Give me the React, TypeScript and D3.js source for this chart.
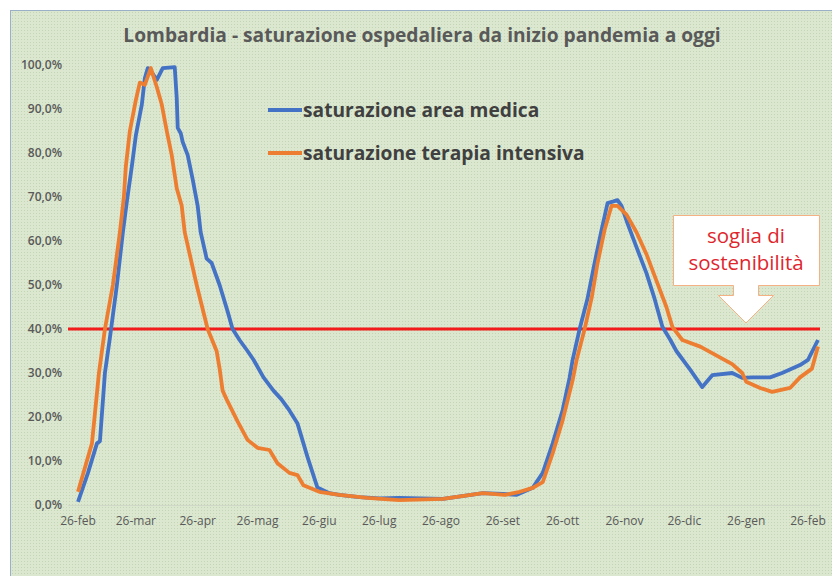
import * as d3 from 'd3';

// giorni dal 26-feb-2020, valori in %
const medicaDays = [0, 5, 9.5, 11, 13.5, 16, 19.5, 22.5, 24.5, 27, 29, 32, 33.5, 35, 37.5, 39.5, 42.5, 48.5, 49.5, 50, 51.5, 52.5, 55, 57.5, 60, 61.5, 64.5, 67, 71, 75, 77.5, 81, 85, 88, 93, 98, 102, 106, 110, 115, 120, 126, 131, 141, 151, 161, 183, 203, 213, 220, 228, 233, 238, 243, 246.5, 248, 251.5, 255.5, 259, 262.5, 265.5, 268.5, 270.5, 272.5, 275.5, 280, 285, 289, 293, 297, 300, 307, 313, 318, 328, 333, 338, 347, 353, 362, 366, 371];
const medicaValues = [0.7, 7.3, 14, 14.5, 30, 38, 50, 62, 69, 77, 84, 91, 97, 99.3, 98, 96.6, 99.3, 99.5, 92.5, 85.7, 84.5, 82.5, 79.5, 74, 68, 62, 56, 55, 50, 44, 40, 37.5, 35, 33, 29, 26, 24, 21.5, 18.6, 11, 4, 2.7, 2.3, 1.8, 1.5, 1.6, 1.4, 2.7, 2.5, 2.3, 3.9, 7.3, 14, 21.6, 29, 33, 40, 47, 55, 62.5, 68.6, 69, 69.3, 68, 64, 58.6, 52.7, 47, 40.5, 37.5, 35, 30.7, 26.8, 29.5, 30, 28.9, 29, 29, 30, 31.8, 33, 37.5];

const intensivaDays = [0, 7, 10.5, 13.5, 17.5, 21, 23, 24, 26, 29, 31, 33.5, 36.5, 39.5, 42, 44.5, 47, 49.5, 52, 53.5, 59.5, 65, 69.5, 71, 72.5, 74.5, 80, 85, 90, 96, 100, 106, 110, 113, 121, 131, 145, 161, 183, 203, 214, 221.5, 228, 233, 238, 243, 248, 250, 254, 257.5, 260.5, 264, 267.5, 270.5, 275, 280, 285, 290, 295, 298, 303, 312, 320, 328, 333, 335, 342, 348, 357, 362, 368, 371];
const intensivaValues = [3, 14, 30, 40, 50, 62, 70, 77, 85, 92, 96, 95.5, 99.3, 95, 91, 85, 79.5, 72, 68, 62, 50, 40, 35, 31, 26, 24, 19, 14.8, 13, 12.5, 9.5, 7.3, 6.8, 4.5, 3, 2.3, 1.6, 1.1, 1.4, 2.7, 2.3, 3, 3.9, 5.2, 11.8, 19.3, 28.4, 33, 40, 47, 55, 62.5, 68, 68, 66, 62, 57, 51, 45, 40.5, 37.5, 36, 34, 32, 30, 28, 26.6, 25.7, 26.6, 29, 31, 36];

const tickLabels = ['26-feb', '26-mar', '26-apr', '26-mag', '26-giu', '26-lug', '26-ago', '26-set', '26-ott', '26-nov', '26-dic', '26-gen', '26-feb'];
const yTicks = [0, 10, 20, 30, 40, 50, 60, 70, 80, 90, 100];
const soglia = 40;

const seriesNames = ['saturazione area medica', 'saturazione terapia intensiva'];
const seriesColors = ['#4472c4', '#ed7d31'];

export default function App() {
  const W = 832;
  const H = 576;
  const start = new Date(2020, 1, 26);
  const end = new Date(2021, 1, 26);
  const x = d3.scaleTime().domain([start, end]).range([78, 808]);
  const y = d3.scaleLinear().domain([0, 100]).range([505, 65]);
  const toDate = (dd: number) => d3.timeHour.offset(start, dd * 24);
  const tickDates = tickLabels.map((_, i) => d3.timeMonth.offset(start, i));

  const line = d3
    .line<[number, number]>()
    .x((p) => x(toDate(p[0])))
    .y((p) => y(p[1]));

  const medica = medicaDays.map((dd, i) => [dd, medicaValues[i]] as [number, number]);
  const intensiva = intensivaDays.map((dd, i) => [dd, intensivaValues[i]] as [number, number]);

  const font = "'Open Sans', 'Noto Sans', sans-serif";
  const tipY = y(soglia) - 6;

  return (
    <svg width={W} height={H} style={{ position: 'absolute', left: 0, top: 0 }} fontFamily={font}>
      <defs>
        <pattern id="dots" width="3" height="3" patternUnits="userSpaceOnUse">
          <rect width="3" height="3" fill="#dbe7cf" />
          <rect width="1" height="1" fill="#c3d5b4" />
        </pattern>
      </defs>
      <rect width={W} height={H} fill="#fff" />
      <rect x={10.5} y={10.5} width={W} height={H} fill="url(#dots)" stroke="#9ab0c6" />

      <text x={422} y={42} textAnchor="middle" fontSize={19.2} fontWeight="bold" fill="#595959">
        Lombardia - saturazione ospedaliera da inizio pandemia a oggi
      </text>

      {/* assi */}
      <line x1={68} x2={820} y1={y(0) + 0.5} y2={y(0) + 0.5} stroke="#cfd8c6" />
      {yTicks.map((t) => (
        <text key={t} x={62} y={y(t)} dy="0.35em" textAnchor="end" fontSize={12} fontWeight="600" fill="#595959">
          {t.toFixed(1).replace('.', ',')}%
        </text>
      ))}
      {tickDates.map((dt, i) => (
        <text key={i} x={x(dt)} y={521} dy="0.35em" textAnchor="middle" fontSize={12} fill="#595959">
          {tickLabels[i]}
        </text>
      ))}

      {/* soglia */}
      <line x1={68} x2={820} y1={y(soglia)} y2={y(soglia)} stroke="#f21c1c" strokeWidth={3} />

      <path d={line(medica) || ''} fill="none" stroke={seriesColors[0]} strokeWidth={3.8} strokeLinejoin="round" />
      <path d={line(intensiva) || ''} fill="none" stroke={seriesColors[1]} strokeWidth={3.8} strokeLinejoin="round" />

      {/* legenda */}
      {seriesNames.map((n, i) => (
        <g key={n} transform={`translate(268,${110 + i * 43})`}>
          <line x1={0} x2={34} y1={0} y2={0} stroke={seriesColors[i]} strokeWidth={3.8} />
          <text x={35} y={0} dy="0.35em" fontSize={19.2} fontWeight="bold" fill="#404040">
            {n}
          </text>
        </g>
      ))}

      {/* callout */}
      <path
        d={`M673.5,215.5 H819.5 V285.5 H758.5 V295.5 H773.5 L746,${tipY} L718.5,295.5 H733.5 V285.5 H673.5 Z`}
        fill="#fff"
        stroke="#f4b183"
      />
      <text x={746} y={243} textAnchor="middle" fontSize={20.5} fill="#e0262d">
        soglia di
      </text>
      <text x={746} y={270} textAnchor="middle" fontSize={20.5} fill="#e0262d">
        sostenibilità
      </text>
    </svg>
  );
}
